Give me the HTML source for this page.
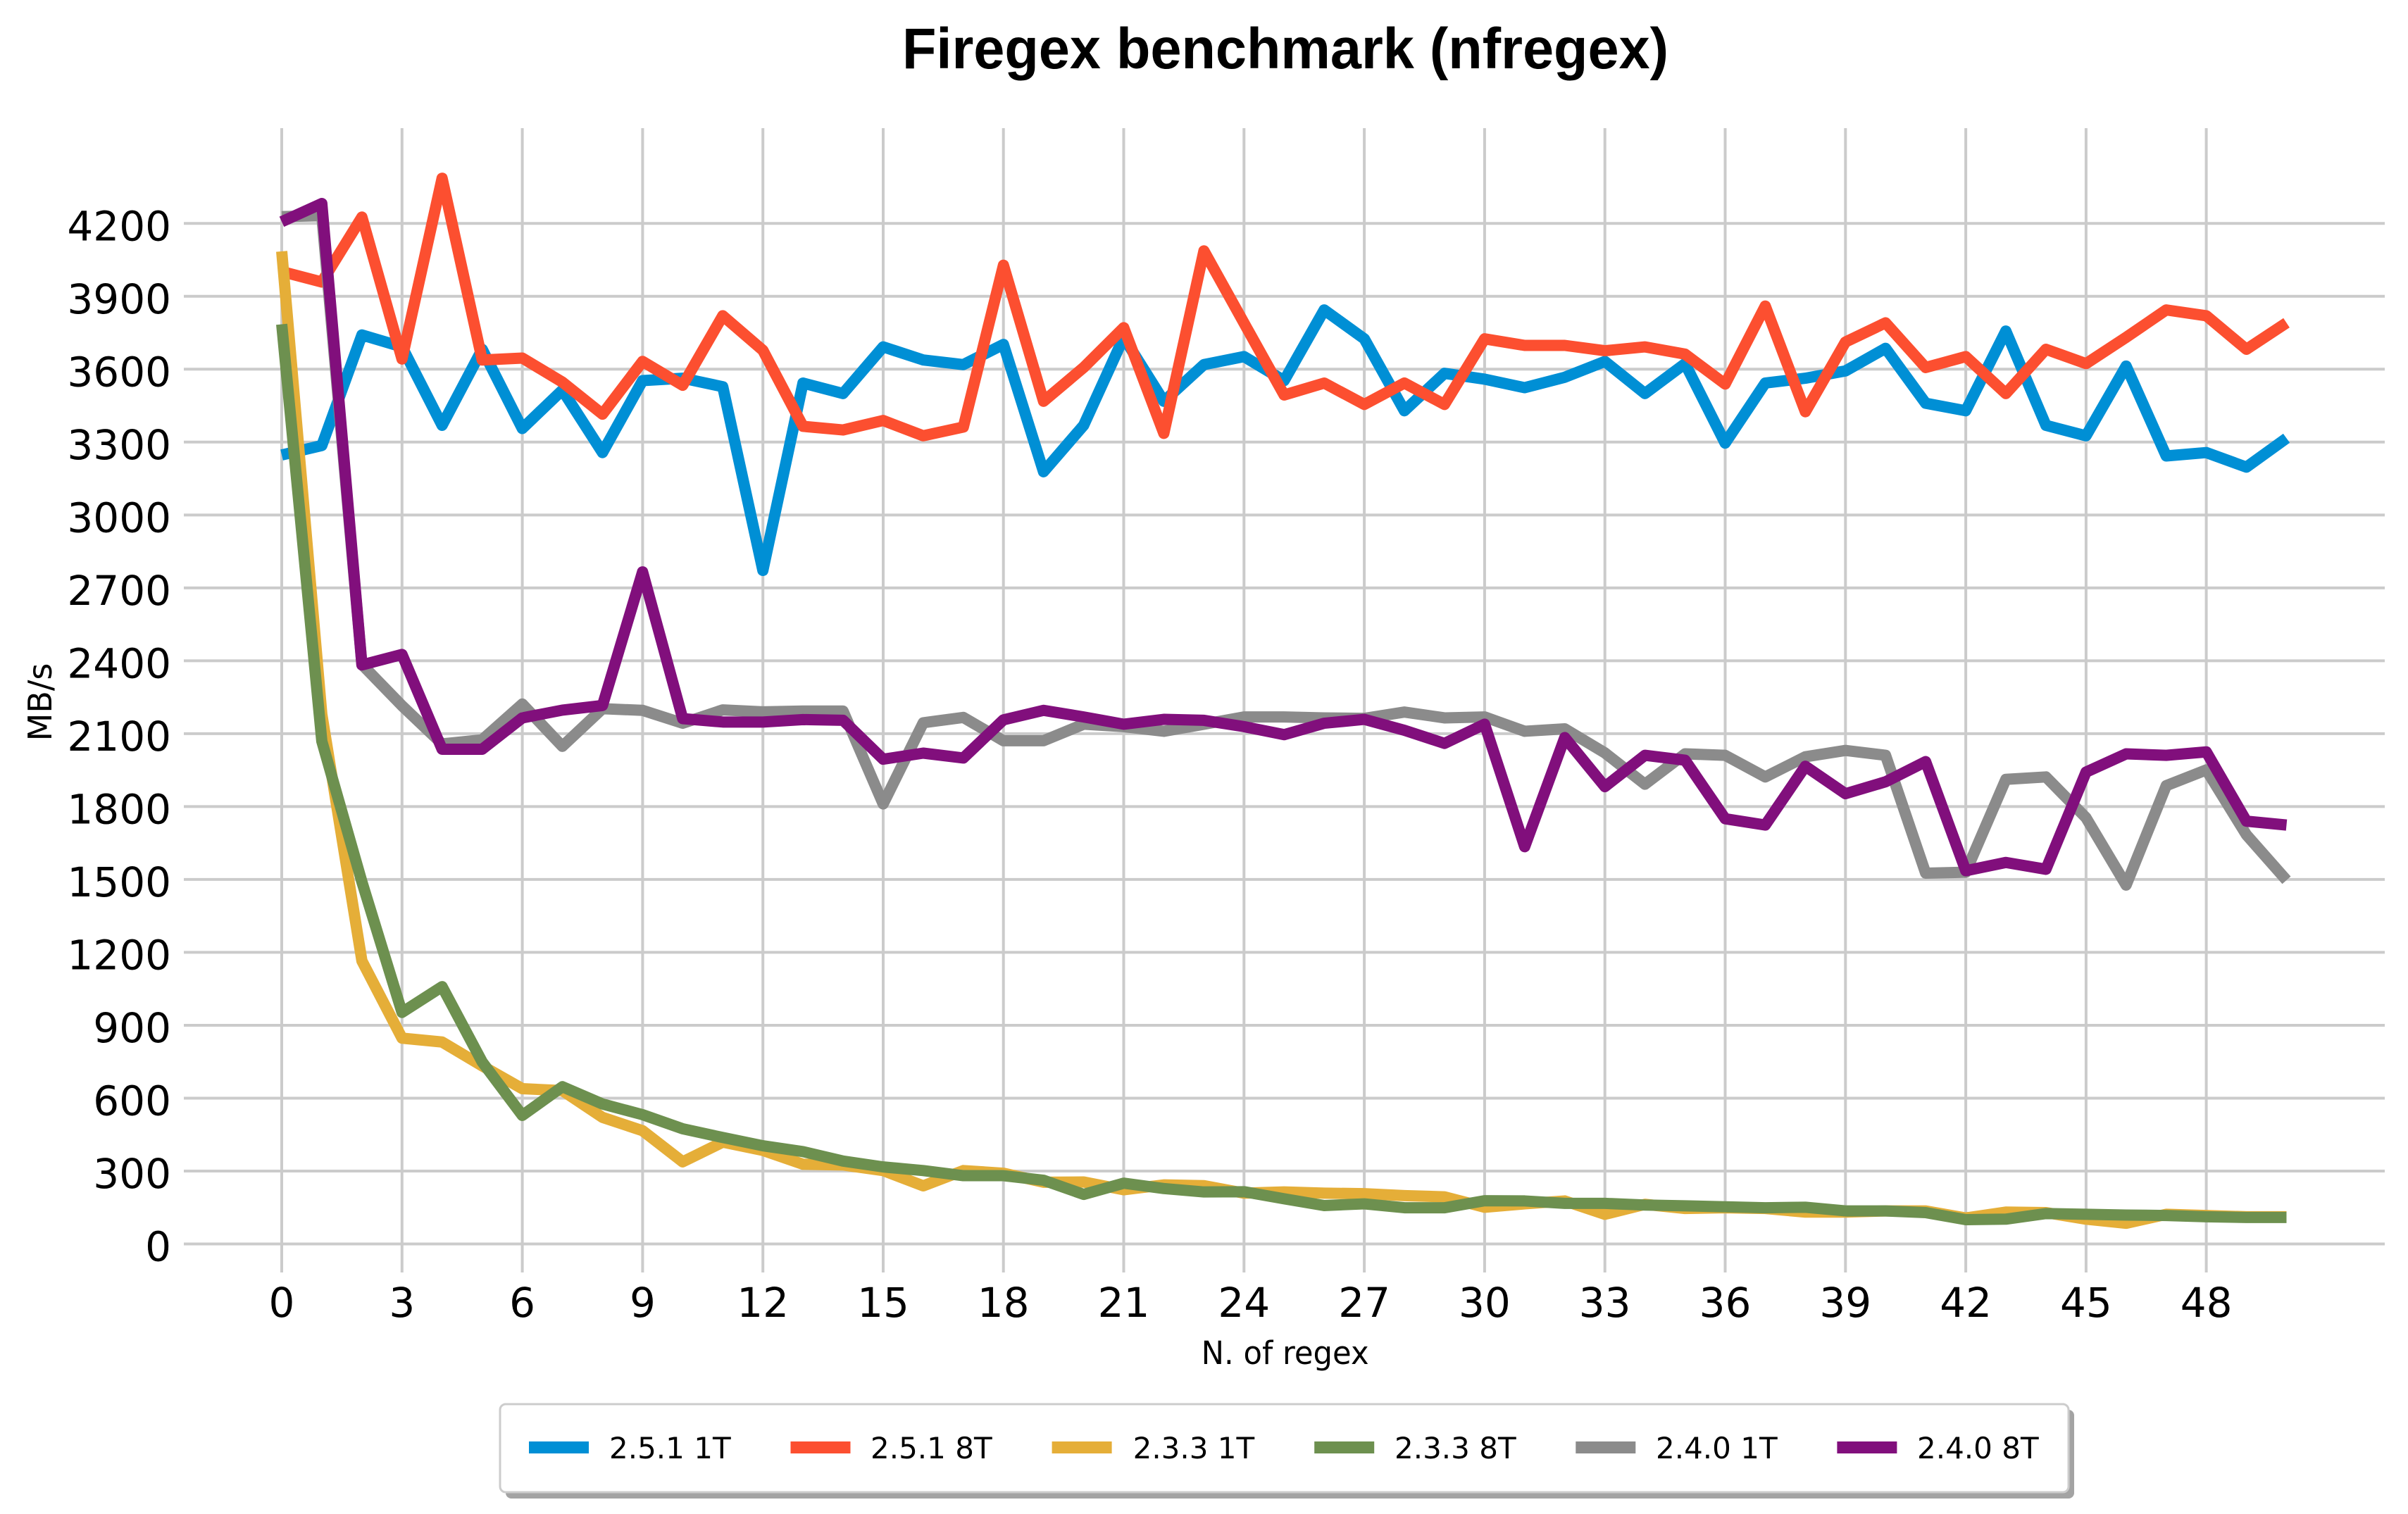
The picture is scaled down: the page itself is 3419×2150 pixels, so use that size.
<!DOCTYPE html>
<html>
<head>
<meta charset="utf-8">
<style>
html,body{margin:0;padding:0;background:#fff;}
svg{display:block;}
text{font-family:"DejaVu Sans","Liberation Sans",sans-serif;fill:#000;}
</style>
</head>
<body>
<svg xmlns="http://www.w3.org/2000/svg" width="3419" height="2150" viewBox="0 0 3419 2150">
<rect x="0" y="0" width="3419" height="2150" fill="#ffffff"/>

<!-- Title -->
<text x="1825" y="97" text-anchor="middle" style="font-family:'Liberation Sans',sans-serif;font-weight:bold;font-size:82px;" textLength="1088" lengthAdjust="spacingAndGlyphs">Firegex benchmark (nfregex)</text>

<!-- Grid -->
<g stroke="#cbcbcb" stroke-width="4" fill="none">
<line x1="261" x2="3386" y1="1766.5" y2="1766.5"/>
<line x1="261" x2="3386" y1="1663.0" y2="1663.0"/>
<line x1="261" x2="3386" y1="1559.5" y2="1559.5"/>
<line x1="261" x2="3386" y1="1456.0" y2="1456.0"/>
<line x1="261" x2="3386" y1="1352.4" y2="1352.4"/>
<line x1="261" x2="3386" y1="1248.9" y2="1248.9"/>
<line x1="261" x2="3386" y1="1145.4" y2="1145.4"/>
<line x1="261" x2="3386" y1="1041.9" y2="1041.9"/>
<line x1="261" x2="3386" y1="938.4" y2="938.4"/>
<line x1="261" x2="3386" y1="834.9" y2="834.9"/>
<line x1="261" x2="3386" y1="731.4" y2="731.4"/>
<line x1="261" x2="3386" y1="627.8" y2="627.8"/>
<line x1="261" x2="3386" y1="524.3" y2="524.3"/>
<line x1="261" x2="3386" y1="420.8" y2="420.8"/>
<line x1="261" x2="3386" y1="317.3" y2="317.3"/>

<line y1="182" y2="1807" x1="400" x2="400"/>
<line y1="182" y2="1807" x1="570.8" x2="570.8"/>
<line y1="182" y2="1807" x1="741.6" x2="741.6"/>
<line y1="182" y2="1807" x1="912.4" x2="912.4"/>
<line y1="182" y2="1807" x1="1083.2" x2="1083.2"/>
<line y1="182" y2="1807" x1="1254" x2="1254"/>
<line y1="182" y2="1807" x1="1424.7" x2="1424.7"/>
<line y1="182" y2="1807" x1="1595.5" x2="1595.5"/>
<line y1="182" y2="1807" x1="1766.3" x2="1766.3"/>
<line y1="182" y2="1807" x1="1937.1" x2="1937.1"/>
<line y1="182" y2="1807" x1="2107.9" x2="2107.9"/>
<line y1="182" y2="1807" x1="2278.7" x2="2278.7"/>
<line y1="182" y2="1807" x1="2449.5" x2="2449.5"/>
<line y1="182" y2="1807" x1="2620.3" x2="2620.3"/>
<line y1="182" y2="1807" x1="2791.1" x2="2791.1"/>
<line y1="182" y2="1807" x1="2961.9" x2="2961.9"/>
<line y1="182" y2="1807" x1="3132.6" x2="3132.6"/>
</g>

<!-- Y tick labels -->
<g font-size="58" text-anchor="end">
<text x="243" y="1790.5">0</text>
<text x="243" y="1687.0">300</text>
<text x="243" y="1583.5">600</text>
<text x="243" y="1480.0">900</text>
<text x="243" y="1376.4">1200</text>
<text x="243" y="1272.9">1500</text>
<text x="243" y="1169.4">1800</text>
<text x="243" y="1065.9">2100</text>
<text x="243" y="962.4">2400</text>
<text x="243" y="858.9">2700</text>
<text x="243" y="755.4">3000</text>
<text x="243" y="651.8">3300</text>
<text x="243" y="548.3">3600</text>
<text x="243" y="444.8">3900</text>
<text x="243" y="341.3">4200</text>
</g>

<!-- X tick labels -->
<g font-size="58" text-anchor="middle">
<text x="400" y="1870">0</text>
<text x="570.8" y="1870">3</text>
<text x="741.6" y="1870">6</text>
<text x="912.4" y="1870">9</text>
<text x="1083.2" y="1870">12</text>
<text x="1254" y="1870">15</text>
<text x="1424.7" y="1870">18</text>
<text x="1595.5" y="1870">21</text>
<text x="1766.3" y="1870">24</text>
<text x="1937.1" y="1870">27</text>
<text x="2107.9" y="1870">30</text>
<text x="2278.7" y="1870">33</text>
<text x="2449.5" y="1870">36</text>
<text x="2620.3" y="1870">39</text>
<text x="2791.1" y="1870">42</text>
<text x="2961.9" y="1870">45</text>
<text x="3132.6" y="1870">48</text>
</g>

<!-- Axis labels -->
<text x="1824.6" y="1937" text-anchor="middle" font-size="45" textLength="238" lengthAdjust="spacingAndGlyphs">N. of regex</text>
<text transform="translate(73,997) rotate(-90)" text-anchor="middle" font-size="46">MB/s</text>

<!-- Data series -->
<g transform="matrix(56.93 0 0 -0.34505 400 1766.5)" fill="none" stroke-width="16" stroke-linejoin="round" stroke-linecap="butt">
<polyline vector-effect="non-scaling-stroke" stroke="#008fd5" points="0,3247 1,3286 2,3741 3,3692 4,3369 5,3682 6,3356 7,3514 8,3257 9,3553 10,3563 11,3528 12,2772 13,3543 14,3500 15,3692 16,3638 17,3619 18,3702 19,3178 20,3369 21,3731 22,3468 23,3619 24,3652 25,3553 26,3844 27,3725 28,3429 29,3583 30,3559 31,3524 32,3567 33,3632 34,3500 35,3623 36,3296 37,3543 38,3563 39,3593 40,3686 41,3460 42,3429 43,3757 44,3369 45,3326 46,3613 47,3243 48,3257 49,3197 50,3316"/>
<polyline vector-effect="non-scaling-stroke" stroke="#fc4f30" points="0,4002 1,3959 2,4226 3,3642 4,4386 5,3638 6,3646 7,3547 8,3415 9,3632 10,3534 11,3820 12,3678 13,3365 14,3350 15,3389 16,3326 17,3362 18,4028 19,3468 20,3607 21,3771 22,3336 23,4087 24,3790 25,3494 26,3543 27,3455 28,3543 29,3455 30,3725 31,3698 32,3698 33,3676 34,3692 35,3662 36,3539 37,3860 38,3425 39,3712 40,3791 41,3607 42,3652 43,3500 44,3682 45,3623 46,3731 47,3844 48,3820 49,3682 50,3791"/>
<polyline vector-effect="non-scaling-stroke" stroke="#e5ae38" points="0,4085 1,2180 2,1165 3,847 4,831 5,733 6,639 7,631 8,521 9,466 10,338 11,419 12,385 13,328 14,325 15,302 16,239 17,302 18,291 19,254 20,255 21,223 22,243 23,240 24,209 25,214 26,209 27,207 28,199 29,194 30,151 31,165 32,177 33,122 34,163 35,146 36,149 37,146 38,131 39,131 40,136 41,136 42,107 43,131 44,129 45,102 46,85 47,122 48,117 49,112 50,112"/>
<polyline vector-effect="non-scaling-stroke" stroke="#6d904f" points="0,3785 1,2069 2,1490 3,953 4,1059 5,749 6,529 7,647 8,576 9,532 10,474 11,438 12,404 13,380 14,341 15,317 16,302 17,281 18,281 19,262 20,204 21,250 22,228 23,214 24,215 25,186 26,158 27,165 28,149 29,149 30,178 31,177 32,167 33,167 34,160 35,157 36,153 37,149 38,151 39,136 40,136 41,129 42,100 43,102 44,125 45,122 46,119 47,117 48,112 49,109 50,109"/>
<polyline vector-effect="non-scaling-stroke" stroke="#8b8b8b" points="0,4228 1,4232 2,2385 3,2215 4,2058 5,2075 6,2222 7,2048 8,2203 9,2196 10,2143 11,2198 12,2190 13,2193 14,2193 15,1811 16,2145 17,2167 18,2071 19,2071 20,2139 21,2129 22,2110 23,2139 24,2169 25,2169 26,2165 27,2163 28,2189 29,2165 30,2169 31,2110 32,2120 33,2021 34,1892 35,2017 36,2011 37,1922 38,2005 39,2031 40,2011 41,1526 42,1530 43,1912 44,1922 45,1754 46,1477 47,1886 48,1951 49,1684 50,1497"/>
<polyline vector-effect="non-scaling-stroke" stroke="#810f7c" points="0,4207 1,4282 2,2383 3,2426 4,2036 5,2036 6,2165 7,2197 8,2216 9,2766 10,2162 11,2148 12,2148 13,2158 14,2155 15,1995 16,2020 17,2000 18,2157 19,2196 20,2169 21,2139 22,2159 23,2155 24,2129 25,2096 26,2143 27,2159 28,2114 29,2060 30,2139 31,1635 32,2084 33,1882 34,2011 35,1991 36,1750 37,1724 38,1966 39,1853 40,1902 41,1985 42,1536 43,1570 44,1542 45,1942 46,2017 47,2011 48,2025 49,1740 50,1724"/>
</g>

<!-- Legend -->
<rect x="718" y="2002" width="2227" height="126" rx="8" ry="8" fill="#a3a3a3"/>
<rect x="710" y="1994" width="2227" height="125" rx="8" ry="8" fill="#ffffff" stroke="#cccccc" stroke-width="3"/>
<g stroke-width="17" stroke-linecap="butt">
<line x1="751" x2="836" y1="2055.5" y2="2055.5" stroke="#008fd5"/>
<line x1="1122.5" x2="1207.5" y1="2055.5" y2="2055.5" stroke="#fc4f30"/>
<line x1="1493.6" x2="1578.6" y1="2055.5" y2="2055.5" stroke="#e5ae38"/>
<line x1="1866.2" x2="1951.2" y1="2055.5" y2="2055.5" stroke="#6d904f"/>
<line x1="2237.3" x2="2322.3" y1="2055.5" y2="2055.5" stroke="#8b8b8b"/>
<line x1="2608.4" x2="2693.4" y1="2055.5" y2="2055.5" stroke="#810f7c"/>
</g>
<g font-size="42">
<text x="865" y="2071">2.5.1 1T</text>
<text x="1236" y="2071">2.5.1 8T</text>
<text x="1608.6" y="2071">2.3.3 1T</text>
<text x="1980" y="2071">2.3.3 8T</text>
<text x="2351" y="2071">2.4.0 1T</text>
<text x="2722" y="2071">2.4.0 8T</text>
</g>
</svg>
</body>
</html>
